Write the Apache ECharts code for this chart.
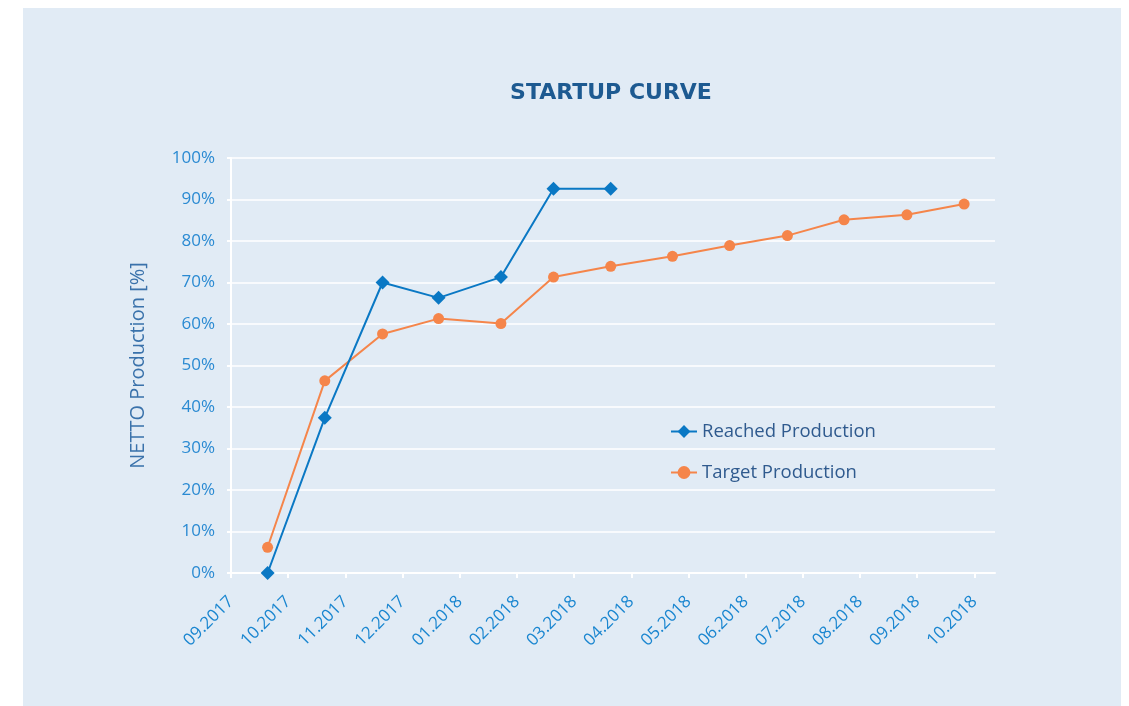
<!DOCTYPE html>
<html>
<head>
<meta charset="utf-8">
<script src="https://cdn.jsdelivr.net/npm/echarts@6/dist/echarts.min.js"></script>
<style>
  html, body { margin: 0; padding: 0; background: #ffffff; }
  #panel { position: absolute; left: 23px; top: 8px; width: 1098px; height: 698px; background: #e1ebf5; }
  #chart { position: absolute; left: 0; top: 0; width: 1129px; height: 706px; }
</style>
</head>
<body>
<div id="panel"></div>
<div id="chart"></div>
<script>
// Month tick labels (one tick per month)
const monthLabels = ['09.2017','10.2017','11.2017','12.2017','01.2018','02.2018','03.2018','04.2018','05.2018','06.2018','07.2018','08.2018','09.2018','10.2018'];
// Point positions, in months since 09.2017
const reachedX = [0.64, 1.64, 2.65, 3.63, 4.72, 5.64, 6.64];
const reachedY = [0, 37.4, 70.0, 66.3, 71.3, 92.6, 92.6];
const targetX = [0.64, 1.64, 2.65, 3.63, 4.72, 5.64, 6.64, 7.72, 8.72, 9.73, 10.72, 11.82, 12.82];
const targetY = [6.2, 46.3, 57.6, 61.3, 60.1, 71.3, 73.9, 76.3, 78.9, 81.3, 85.1, 86.3, 88.9];
const yTicks = [0, 10, 20, 30, 40, 50, 60, 70, 80, 90, 100];

const tickIdx = monthLabels.map((_, i) => i);
const pair = (xs, ys) => xs.map((x, i) => [x, ys[i]]);

const chart = echarts.init(document.getElementById('chart'), null, { renderer: 'canvas' });
chart.setOption({
  backgroundColor: 'transparent',
  animation: false,
  title: {
    text: 'STARTUP CURVE',
    left: 606, top: 77, textAlign: 'center',
    textStyle: { fontFamily: 'DejaVu Sans', fontWeight: 'bold', fontSize: 22, color: '#1d5a91' }
  },
  legend: {
    orient: 'vertical',
    left: 665, top: 417,
    itemWidth: 26, itemHeight: 16, itemGap: 22,
    textStyle: { fontFamily: 'Open Sans', fontSize: 18.5, color: '#2f5a8e' },
    data: ['Reached Production', 'Target Production']
  },
  grid: { left: 231, right: 134, top: 158, bottom: 133, containLabel: false },
  xAxis: {
    type: 'value', min: 0, max: 13.36, interval: 1,
    axisLine: { show: true, lineStyle: { color: '#ffffff', width: 2 } },
    axisTick: { show: true, length: 5, customValues: tickIdx, lineStyle: { color: '#ffffff', width: 2 } },
    splitLine: { show: false },
    axisLabel: {
      customValues: tickIdx,
      rotate: 45, margin: 26,
      fontFamily: 'Open Sans', fontSize: 17, color: '#1a86d0',
      formatter: v => monthLabels[Math.round(v)] || ''
    }
  },
  yAxis: {
    type: 'value', min: 0, max: 100, interval: 10,
    name: 'NETTO Production [%]',
    nameLocation: 'middle', nameGap: 83,
    nameTextStyle: { fontFamily: 'Open Sans', fontSize: 20, color: '#3a72ab' },
    axisLine: { show: true, lineStyle: { color: '#ffffff', width: 2 } },
    axisTick: { show: true, length: 4, lineStyle: { color: '#ffffff', width: 2 } },
    splitLine: { show: true, lineStyle: { color: '#ffffff', width: 1.5 } },
    axisLabel: {
      margin: 16,
      fontFamily: 'Open Sans', fontSize: 17, color: '#2a8ad2',
      formatter: v => v + '%'
    }
  },
  series: [
    {
      name: 'Reached Production', type: 'line',
      data: pair(reachedX, reachedY),
      symbol: 'diamond', symbolSize: 14,
      itemStyle: { color: '#0a78c4' },
      lineStyle: { color: '#0a78c4', width: 2 },
      z: 3
    },
    {
      name: 'Target Production', type: 'line',
      data: pair(targetX, targetY),
      symbol: 'circle', symbolSize: 11,
      itemStyle: { color: '#f5854a' },
      lineStyle: { color: '#f5854a', width: 2 },
      z: 2
    }
  ]
});
</script>
</body>
</html>
